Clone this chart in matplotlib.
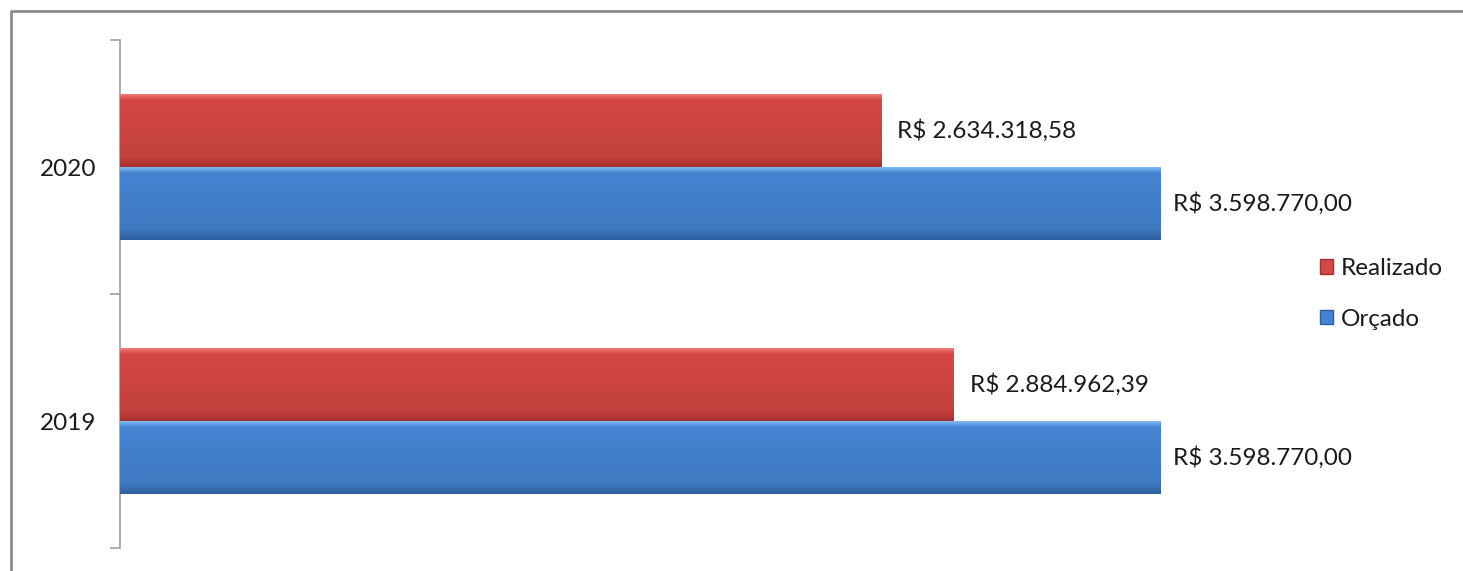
import numpy as np
import matplotlib
matplotlib.use("Agg")
import matplotlib.pyplot as plt
from matplotlib.patches import Rectangle
from matplotlib.lines import Line2D

# dados do grafico
anos = ["2019", "2020"]
realizado = [2884962.39, 2634318.58]
orcado = [3598770.00, 3598770.00]
series_nomes = ["Realizado", "Orçado"]

# cores (topo claro, meio, base escura)
cor_real = ["#f07a76", "#d44744", "#a9302e"]
cor_orc = ["#7fb8f0", "#4484d2", "#30609f"]

plt.rcParams['font.family'] = ['Lato', 'DejaVu Sans']
FS = 17.5


def fmt_brl(v):
    s = "{:,.2f}".format(v)
    s = s.replace(",", "X").replace(".", ",").replace("X", ".")
    return "R$ " + s


def gradiente(cores):
    c = [np.array(matplotlib.colors.to_rgb(x)) for x in cores]
    n = 100
    rows = []
    for i in range(n):
        t = i / (n - 1)
        if t < 0.08:
            col = c[0] + (c[1] - c[0]) * (t / 0.08)
        elif t < 0.85:
            col = c[1] + (c[1] * 0.92 - c[1]) * ((t - 0.08) / 0.77)
        else:
            col = c[1] * 0.92 + (c[2] - c[1] * 0.92) * ((t - 0.85) / 0.15)
        rows.append(col)
    return np.array(rows).reshape(n, 1, 3)


W, H = 1463, 571
fig = plt.figure(figsize=(W / 100, H / 100), dpi=100)
ax = fig.add_axes([120 / W, 23 / H, 1156 / W, 508 / H])

y = np.arange(len(anos))
h = 0.287
bars_r = ax.barh(y + h / 2, realizado, height=h, color=cor_real[1], edgecolor="none", zorder=2)
bars_o = ax.barh(y - h / 2, orcado, height=h, color=cor_orc[1], edgecolor="none", zorder=2)

# preenchimento em gradiente recortado nas barras
for bars, cores in [(bars_r, cor_real), (bars_o, cor_orc)]:
    img = gradiente(cores)
    for b in bars:
        x0, y0 = b.get_x(), b.get_y()
        bw, bh = b.get_width(), b.get_height()
        im = ax.imshow(img, extent=[x0, x0 + bw, y0, y0 + bh], origin="upper",
                       aspect="auto", zorder=3, interpolation="bilinear")
        im.set_clip_path(b)
# imshow muda os limites
ax.set_xlim(0, 4.0e6)
ax.set_ylim(-0.5, 1.5)

# rotulos de valor
for b, v in zip(bars_r, realizado):
    ax.annotate(fmt_brl(v), (v, b.get_y() + b.get_height() / 2), xytext=(16, 0),
                textcoords="offset pixels", va="center", ha="left", fontsize=FS, color="#1a1a1a")
for b, v in zip(bars_o, orcado):
    ax.annotate(fmt_brl(v), (v, b.get_y() + b.get_height() / 2), xytext=(13, 0),
                textcoords="offset pixels", va="center", ha="left", fontsize=FS, color="#1a1a1a")

# eixo y com marcas entre categorias
ax.set_yticks([-0.5, 0.5, 1.5])
ax.set_yticklabels([])
ax.set_yticks(y, minor=True)
ax.set_yticklabels(anos, minor=True, fontsize=FS, color="#1a1a1a")
ax.tick_params(axis="y", which="major", length=7.5, color="#a0a0a0", width=1.2)
ax.tick_params(axis="y", which="minor", length=0, pad=17)
ax.set_xticks([])
for s in ["top", "right", "bottom"]:
    ax.spines[s].set_visible(False)
ax.spines["left"].set_color("#a0a0a0")
ax.spines["left"].set_linewidth(1.2)
ax.set_facecolor("none")

# legenda
handles = [Rectangle((0, 0), 1, 1, facecolor=cor_real[1], edgecolor=cor_real[2]),
           Rectangle((0, 0), 1, 1, facecolor=cor_orc[1], edgecolor=cor_orc[2])]
fig.legend(handles, series_nomes, loc="center left", bbox_to_anchor=(1320 / W, 1 - 294 / H),
           frameon=False, fontsize=FS, handlelength=0.55, handleheight=0.55,
           handletextpad=0.3, labelspacing=1.2, labelcolor="#1a1a1a",
           borderpad=0, borderaxespad=0)

# borda do grafico
fig.add_artist(Line2D([11 / W, 11 / W, 1.0], [0.0, 1 - 11 / H, 1 - 11 / H],
                      transform=fig.transFigure, color="#8c8c8c", linewidth=2))

fig.savefig("out.png", dpi=100, facecolor="white")
